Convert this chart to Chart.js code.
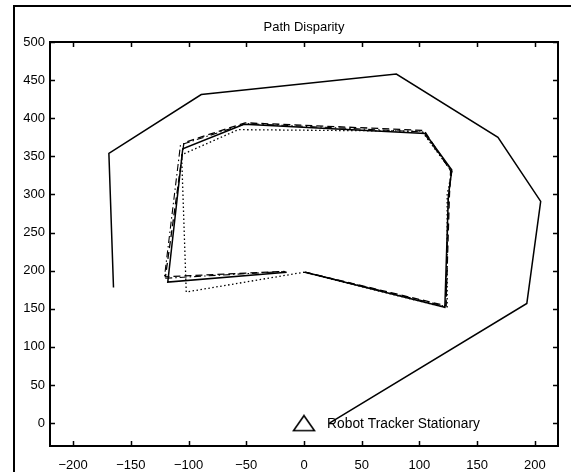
<!DOCTYPE html>
<html>
<head>
<meta charset="utf-8">
<script src="https://cdn.jsdelivr.net/npm/chart.js@4"></script>
<style>
  html, body { margin: 0; padding: 0; background: #fff; }
  #wrap { position: relative; width: 571px; height: 472px; overflow: hidden; }
  #frame { position: absolute; left: 13px; top: 5px; width: 700px; height: 700px;
           border-left: 2px solid #000; border-top: 2px solid #000; }
  #c { position: absolute; left: 0; top: 0; }
</style>
</head>
<body>
<div id="wrap">
  <div id="frame"></div>
  <canvas id="c" width="571" height="472"></canvas>
</div>
<script>
// Path Disparity: trajetoria externa + quatro contornos internos quase sobrepostos

const chartTitle = "Path Disparity";
const xTicks = [-200, -150, -100, -50, 0, 50, 100, 150, 200];
const yTicks = [0, 50, 100, 150, 200, 250, 300, 350, 400, 450, 500];

// caminho externo (linha cheia)
const outerX = [-165, -169, -89, 80, 168, 205, 193, 22];
const outerY = [178, 354, 431, 458, 375, 291, 157, 0];

// contorno interno, linha cheia
const solidX = [1, 122, 125, 128, 105, -52, -105, -118, -15];
const solidY = [198, 152, 297, 332, 380, 392, 360, 185, 198];

// tracejado
const dashX = [1, 123, 126, 127, 104, -51, -104, -120, -17];
const dashY = [198, 154, 300, 331, 384, 394, 368, 192, 199];

// traco-ponto
const dashDotX = [1, 123, 125, 128, 103, -50, -107, -121, -16];
const dashDotY = [198, 153, 298, 330, 382, 393, 365, 190, 199];

// pontilhado (fecha em si mesmo)
const dotX = [0, 124, 124, 128, 102, -57, -106, -102, 0];
const dotY = [198, 151, 300, 330, 383, 385, 352, 172, 198];

// marcador do rastreador parado
const markerX = [0];
const markerY = [0];
const markerLabel = "Robot Tracker Stationary";
const markerLabelX = 20;

const FONT = "'Liberation Sans', Arial, Helvetica, sans-serif";

function pts(xs, ys) { return xs.map((x, i) => ({ x, y: ys[i] })); }
function fmt(v) { return v < 0 ? "\u2212" + Math.abs(v) : String(v); }

function lineSet(xs, ys, dash, width) {
  return {
    data: pts(xs, ys), showLine: true, pointRadius: 0, tension: 0,
    borderColor: "#000", borderWidth: width, borderDash: dash, fill: false,
  };
}

// triangulo estilo matlab (centrado no ponto, mais achatado que o do Chart.js)
function triangleIcon() {
  const c = document.createElement("canvas");
  c.width = 24; c.height = 18;
  const g = c.getContext("2d");
  g.strokeStyle = "#000"; g.lineWidth = 1.6; g.lineJoin = "miter";
  g.beginPath();
  g.moveTo(12, 1.5); g.lineTo(22.5, 16.5); g.lineTo(1.5, 16.5); g.closePath();
  g.stroke();
  return c;
}

// ticks para dentro nos quatro lados + caixa + titulo + texto do marcador
const matlabAxes = {
  id: "matlabAxes",
  afterDraw(chart) {
    const { ctx, chartArea: a, scales } = chart;
    const L = 5;
    ctx.save();
    ctx.strokeStyle = "#000";
    ctx.lineWidth = 1.5;
    ctx.beginPath();
    xTicks.forEach(v => {
      const px = Math.round(scales.x.getPixelForValue(v)) + 0.5;
      ctx.moveTo(px, a.bottom); ctx.lineTo(px, a.bottom - L);
      ctx.moveTo(px, a.top); ctx.lineTo(px, a.top + L);
    });
    yTicks.forEach(v => {
      const py = Math.round(scales.y.getPixelForValue(v)) + 0.5;
      ctx.moveTo(a.left, py); ctx.lineTo(a.left + L, py);
      ctx.moveTo(a.right, py); ctx.lineTo(a.right - L, py);
    });
    ctx.stroke();
    ctx.lineWidth = 2;
    ctx.strokeRect(a.left, a.top, a.right - a.left, a.bottom - a.top);

    ctx.fillStyle = "#000";
    ctx.font = "13px " + FONT;
    ctx.textAlign = "center";
    ctx.textBaseline = "middle";
    ctx.fillText(chartTitle, (a.left + a.right) / 2, 27);

    ctx.font = "13.8px " + FONT;
    ctx.textAlign = "left";
    ctx.fillText(markerLabel, scales.x.getPixelForValue(markerLabelX),
                 scales.y.getPixelForValue(markerY[0]) + 1);
    ctx.restore();
  },
};

new Chart(document.getElementById("c"), {
  type: "scatter",
  data: {
    datasets: [
      lineSet(outerX, outerY, [], 1.5),
      lineSet(solidX, solidY, [], 1.5),
      lineSet(dashX, dashY, [7, 4], 1.3),
      lineSet(dashDotX, dashDotY, [7, 3, 1.5, 3], 1.1),
      lineSet(dotX, dotY, [1.5, 2.5], 1.3),
      {
        data: pts(markerX, markerY), showLine: false,
        pointStyle: triangleIcon(), pointRadius: 12,
      },
    ],
  },
  options: {
    responsive: false, animation: false,
    layout: { padding: { top: 42, right: 9, left: 0, bottom: 0 } },
    plugins: { legend: { display: false }, tooltip: { enabled: false }, title: { display: false } },
    scales: {
      x: {
        type: "linear", min: -220, max: 220,
        afterFit: s => { s.height = 26; },
        afterBuildTicks: s => { s.ticks = xTicks.map(v => ({ value: v })); },
        grid: { display: false, drawTicks: false },
        border: { display: false },
        ticks: { padding: 12, color: "#000", font: { family: FONT, size: 13 }, callback: fmt, maxRotation: 0 },
      },
      y: {
        type: "linear", min: -30, max: 500,
        afterFit: s => { s.width = 50; },
        afterBuildTicks: s => { s.ticks = yTicks.map(v => ({ value: v })); },
        grid: { display: false, drawTicks: false },
        border: { display: false },
        ticks: { padding: 5, color: "#000", font: { family: FONT, size: 13 }, callback: fmt },
      },
    },
  },
  plugins: [matlabAxes],
});
</script>
</body>
</html>
